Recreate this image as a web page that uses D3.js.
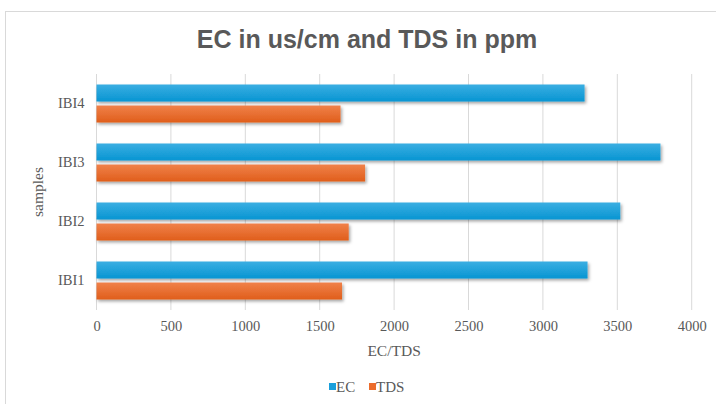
<!DOCTYPE html>
<html><head><meta charset="utf-8">
<script src="https://cdn.jsdelivr.net/npm/d3@7"></script>
<style>body{margin:0;background:#fff}svg{display:block}</style>
</head><body>
<svg id="c" width="716" height="404"></svg>
<script>
const categories = ["IBI1", "IBI2", "IBI3", "IBI4"];
const seriesNames = ["EC", "TDS"];
const ecValues = [3300, 3520, 3790, 3280];
const tdsValues = [1650, 1695, 1805, 1640];
const xTicks = [0, 500, 1000, 1500, 2000, 2500, 3000, 3500, 4000];
const title = "EC in us/cm and TDS in ppm";
const xTitle = "EC/TDS";
const yTitle = "samples";

const svg = d3.select("#c");
const W = 716, H = 404;
const m = {left: 96.5, right: 716 - 691.7, top: 74, bottom: 404 - 310};
const serif = "Liberation Serif, Times New Roman, serif";

const defs = svg.append("defs");
function grad(id, c1, c2) {
  const g = defs.append("linearGradient").attr("id", id).attr("x1", 0).attr("y1", 0).attr("x2", 0).attr("y2", 1);
  g.append("stop").attr("offset", "0%").attr("stop-color", c1);
  g.append("stop").attr("offset", "100%").attr("stop-color", c2);
}
grad("gEC", "#3aaee2", "#0895d2");
grad("gTDS", "#f08149", "#e05e1c");
const f = defs.append("filter").attr("id", "sh").attr("x", "-5%").attr("y", "-30%").attr("width", "110%").attr("height", "180%");
f.append("feDropShadow").attr("dx", 1.5).attr("dy", 2).attr("stdDeviation", 1.5).attr("flood-color", "#000").attr("flood-opacity", 0.35);

// chart border
svg.append("rect").attr("x", 5.5).attr("y", 11.5).attr("width", 716).attr("height", 400)
  .attr("fill", "#fff").attr("stroke", "#d9d9d9").attr("stroke-width", 1);

const x = d3.scaleLinear().domain([0, 4000]).range([m.left, W - m.right]);
const y = d3.scaleBand().domain(categories.slice().reverse()).range([m.top, H - m.bottom]).paddingInner(0.356).paddingOuter(0.178);
const ySub = d3.scaleBand().domain(seriesNames).range([0, y.bandwidth()]).paddingInner(0.19);

// gridlines
svg.append("g").selectAll("line").data(xTicks).join("line")
  .attr("x1", d => x(d)).attr("x2", d => x(d))
  .attr("y1", m.top).attr("y2", H - m.bottom)
  .attr("stroke", "#d9d9d9").attr("stroke-width", 1);

// x axis labels
const xAxis = d3.axisBottom(x).tickValues(xTicks).tickSize(0).tickPadding(11).tickFormat(d3.format("d"));
const gx = svg.append("g").attr("transform", `translate(0,${H - m.bottom})`).call(xAxis);
gx.select(".domain").remove();
gx.selectAll("text").attr("font-family", serif).attr("font-size", 14.5).attr("fill", "#595959");

// y axis labels
const yAxis = d3.axisLeft(y).tickSize(0).tickPadding(12);
const gy = svg.append("g").attr("transform", `translate(${m.left},0)`).call(yAxis);
gy.select(".domain").remove();
gy.selectAll("text").attr("font-family", serif).attr("font-size", 14.5).attr("fill", "#595959");

// bars
const data = categories.map((c, i) => ({c, vals: [ecValues[i], tdsValues[i]]}));
const groups = svg.append("g").selectAll("g").data(data).join("g")
  .attr("transform", d => `translate(0,${y(d.c)})`);
groups.selectAll("rect").data(d => d.vals.map((v, i) => ({s: seriesNames[i], v}))).join("rect")
  .attr("x", x(0)).attr("y", d => ySub(d.s)).attr("height", ySub.bandwidth())
  .attr("width", d => x(d.v) - x(0))
  .attr("fill", d => d.s === "EC" ? "url(#gEC)" : "url(#gTDS)")
  .attr("filter", "url(#sh)");

// titles
svg.append("text").attr("x", 367).attr("y", 48).attr("text-anchor", "middle")
  .attr("font-family", "Liberation Sans, Arial, sans-serif").attr("font-weight", "bold")
  .attr("font-size", 25).attr("fill", "#595959").text(title);
svg.append("text").attr("x", (m.left + W - m.right) / 2).attr("y", 356).attr("text-anchor", "middle")
  .attr("font-family", serif).attr("font-size", 15.5).attr("fill", "#595959").text(xTitle);
svg.append("text").attr("transform", `translate(43,${(m.top + H - m.bottom) / 2}) rotate(-90)`).attr("text-anchor", "middle")
  .attr("font-family", serif).attr("font-size", 15.5).attr("fill", "#595959").text(yTitle);

// legend
const legX = [329, 369];
const lg = svg.append("g").selectAll("g").data(seriesNames).join("g")
  .attr("transform", (d, i) => `translate(${legX[i]},387)`);
lg.append("rect").attr("x", 0).attr("y", -4).attr("width", 7).attr("height", 7)
  .attr("fill", d => d === "EC" ? "#1a9fdb" : "#ec6c2c");
lg.append("text").attr("x", 7).attr("y", 5)
  .attr("font-family", serif).attr("font-size", 15).attr("fill", "#595959").text(d => d);
</script>
</body></html>
